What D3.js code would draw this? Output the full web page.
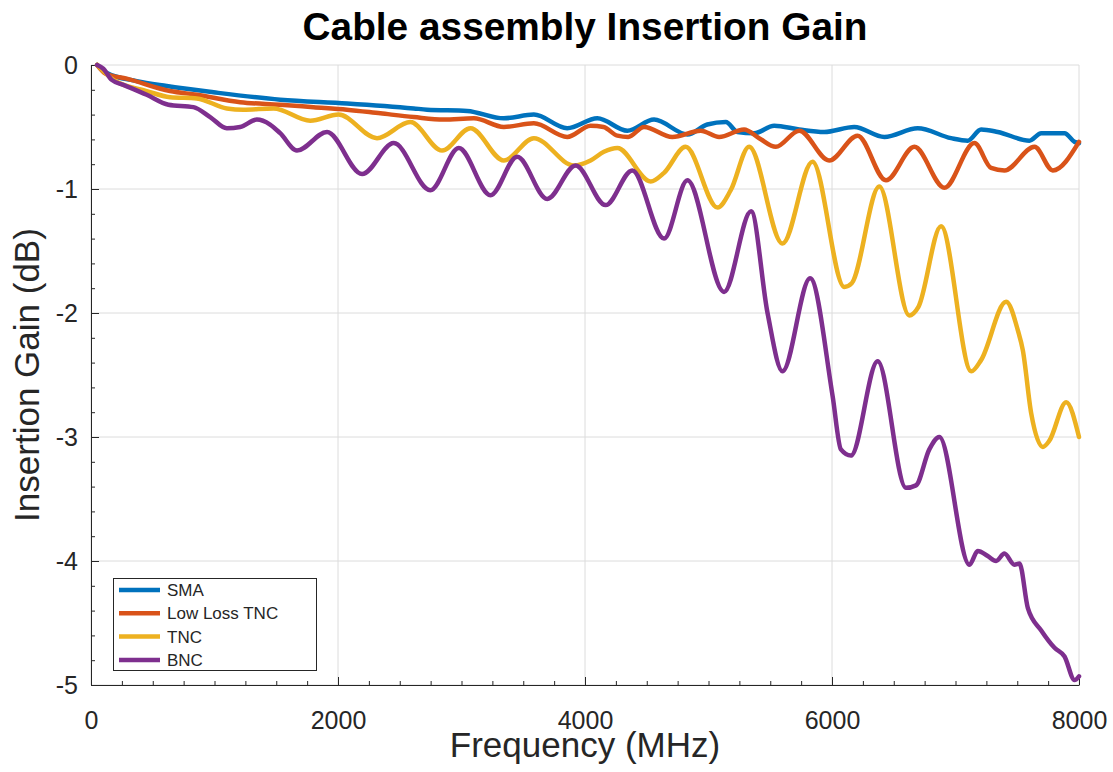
<!DOCTYPE html>
<html>
<head>
<meta charset="UTF-8">
<title>Cable assembly Insertion Gain</title>
<script src="https://d3js.org/d3.v7.min.js"></script>
<style>
    body { margin: 0; background: #fff; }
    svg { font-family: "Liberation Sans", Arial, Helvetica, sans-serif; }
</style>
</head>
<body>
<svg id="chart" width="1113" height="772"></svg>
<script>
    // values (frequency in MHz, gain in dB)
    const seriesNames = ["SMA", "Low Loss TNC", "TNC", "BNC"];
    const seriesColors = ["#0072BD", "#D95319", "#EDB120", "#7E2F8E"];

    const smaFreq = [50, 120, 370, 613, 992, 1532, 2073, 2613, 2721, 3046, 3343, 3586, 3856, 4100, 4343, 4559, 4829, 4990, 5140, 5234, 5370, 5532, 5734, 5937, 6180, 6424, 6694, 6964, 7099, 7207, 7342, 7599, 7694, 7883, 7964, 8000];
    const smaGain = [0, -0.06, -0.13, -0.17, -0.22, -0.28, -0.31, -0.35, -0.36, -0.37, -0.43, -0.40, -0.51, -0.43, -0.53, -0.44, -0.56, -0.48, -0.46, -0.54, -0.55, -0.49, -0.52, -0.54, -0.50, -0.58, -0.51, -0.59, -0.61, -0.52, -0.54, -0.61, -0.55, -0.55, -0.62, -0.63];

    const lltncFreq = [50, 120, 289, 640, 857, 1208, 1532, 1802, 2073, 2343, 2613, 2856, 3100, 3343, 3586, 3856, 4045, 4150, 4262, 4350, 4478, 4707, 4937, 5086, 5288, 5410, 5545, 5734, 5977, 6207, 6437, 6667, 6910, 7153, 7288, 7396, 7640, 7788, 8000];
    const lltncGain = [0, -0.07, -0.11, -0.21, -0.24, -0.30, -0.32, -0.34, -0.36, -0.39, -0.42, -0.44, -0.43, -0.50, -0.47, -0.58, -0.49, -0.50, -0.57, -0.58, -0.50, -0.58, -0.53, -0.58, -0.52, -0.59, -0.66, -0.53, -0.77, -0.57, -0.93, -0.66, -0.99, -0.63, -0.83, -0.85, -0.66, -0.85, -0.62];

    const tncFreq = [50, 181, 451, 640, 857, 1100, 1235, 1478, 1775, 2005, 2316, 2586, 2843, 3073, 3343, 3586, 3910, 4045, 4153, 4262, 4532, 4640, 4815, 5073, 5180, 5329, 5599, 5842, 6100, 6160, 6383, 6626, 6700, 6883, 7128, 7207, 7410, 7505, 7545, 7613, 7707, 7760, 7896, 8000];
    const tncGain = [0, -0.12, -0.21, -0.26, -0.27, -0.35, -0.36, -0.35, -0.45, -0.40, -0.59, -0.46, -0.69, -0.51, -0.77, -0.59, -0.81, -0.77, -0.70, -0.67, -0.94, -0.87, -0.66, -1.15, -1.01, -0.66, -1.44, -0.78, -1.79, -1.76, -0.98, -2.02, -1.95, -1.30, -2.47, -2.38, -1.91, -2.14, -2.30, -2.81, -3.08, -3.03, -2.72, -3.00];

    const bncFreq = [50, 100, 168, 262, 451, 627, 830, 965, 1100, 1208, 1343, 1450, 1532, 1668, 1911, 2195, 2451, 2748, 2978, 3235, 3451, 3694, 3924, 4167, 4383, 4640, 4829, 5126, 5345, 5478, 5599, 5823, 6005, 6072, 6153, 6370, 6599, 6680, 6788, 6869, 7113, 7180, 7261, 7329, 7396, 7477, 7518, 7586, 7694, 7802, 7883, 7964, 8000];
    const bncGain = [0, -0.03, -0.12, -0.16, -0.24, -0.32, -0.34, -0.42, -0.51, -0.50, -0.44, -0.48, -0.55, -0.69, -0.54, -0.88, -0.63, -1.01, -0.67, -1.05, -0.74, -1.08, -0.81, -1.13, -0.85, -1.40, -0.93, -1.83, -1.18, -2.00, -2.47, -1.72, -2.67, -3.10, -3.15, -2.39, -3.41, -3.39, -3.10, -3.00, -4.03, -3.92, -3.96, -4.00, -3.94, -4.03, -4.02, -4.38, -4.56, -4.70, -4.77, -4.96, -4.93];

    const xTicks = [0, 2000, 4000, 6000, 8000];
    const yTicks = [0, -1, -2, -3, -4, -5];

    const series = [
        {name: seriesNames[0], color: seriesColors[0], freq: smaFreq, gain: smaGain},
        {name: seriesNames[1], color: seriesColors[1], freq: lltncFreq, gain: lltncGain},
        {name: seriesNames[2], color: seriesColors[2], freq: tncFreq, gain: tncGain},
        {name: seriesNames[3], color: seriesColors[3], freq: bncFreq, gain: bncGain}
    ];

    const mLeft = 91, mRight = 1079, mTop = 65, mBottom = 685;
    const axisColor = '#262626';

    const svg = d3.select('#chart');

    const x = d3.scaleLinear().domain([0, 8000]).range([mLeft, mRight]);
    const y = d3.scaleLinear().domain([-5, 0]).range([mBottom, mTop]);

    // grid
    const grid = svg.append('g').attr('stroke', '#dcdcdc').attr('stroke-width', 1);
    grid.selectAll('.gx').data(xTicks).join('line')
        .attr('x1', d => x(d)).attr('x2', d => x(d))
        .attr('y1', mTop).attr('y2', mBottom);
    grid.selectAll('.gy').data(yTicks).join('line')
        .attr('x1', mLeft).attr('x2', mRight)
        .attr('y1', d => y(d)).attr('y2', d => y(d));

    // minor ticks (inward)
    const xMinor = d3.range(0, 8001, 250);
    const yMinor = d3.range(-5, 0.001, 0.2);
    svg.append('g')
        .attr('transform', `translate(0,${mBottom})`)
        .call(d3.axisBottom(x).tickValues(xMinor).tickSize(-4).tickSizeOuter(0).tickFormat(''))
        .call(g => g.select('.domain').remove())
        .selectAll('line').attr('stroke', axisColor);
    svg.append('g')
        .attr('transform', `translate(${mLeft},0)`)
        .call(d3.axisLeft(y).tickValues(yMinor).tickSize(-4).tickSizeOuter(0).tickFormat(''))
        .call(g => g.select('.domain').remove())
        .selectAll('line').attr('stroke', axisColor);

    // major axes
    const xAxis = svg.append('g')
        .attr('transform', `translate(0,${mBottom})`)
        .call(d3.axisBottom(x).tickValues(xTicks).tickSize(-8).tickSizeOuter(0).tickPadding(26).tickFormat(d => String(d)));
    const yAxis = svg.append('g')
        .attr('transform', `translate(${mLeft},0)`)
        .call(d3.axisLeft(y).tickValues(yTicks).tickSize(-8).tickSizeOuter(0).tickPadding(13).tickFormat(d => String(d)));
    [xAxis, yAxis].forEach(g => {
        g.attr('font-family', null).attr('font-size', null);
        g.select('.domain').attr('stroke', axisColor);
        g.selectAll('line').attr('stroke', axisColor);
        g.selectAll('text').attr('fill', axisColor).style('font-size', '25px');
    });

    // curves
    const line = d3.line()
        .x(d => x(d[0]))
        .y(d => y(d[1]))
        .curve(d3.curveMonotoneX);

    const plot = svg.append('g');
    series.forEach(s => {
        const pts = s.freq.map((f, i) => [f, s.gain[i]]);
        plot.append('path')
            .datum(pts)
            .attr('fill', 'none')
            .attr('stroke', s.color)
            .attr('stroke-width', 4.5)
            .attr('stroke-linejoin', 'round')
            .attr('stroke-linecap', 'round')
            .attr('d', line);
    });

    // title and labels
    svg.append('text')
        .attr('x', (mLeft + mRight) / 2).attr('y', 40)
        .attr('text-anchor', 'middle')
        .style('font-size', '38.8px').style('font-weight', 'bold')
        .attr('fill', '#000')
        .text('Cable assembly Insertion Gain');

    svg.append('text')
        .attr('x', (mLeft + mRight) / 2).attr('y', 757)
        .attr('text-anchor', 'middle')
        .style('font-size', '35px')
        .attr('fill', axisColor)
        .text('Frequency (MHz)');

    svg.append('text')
        .attr('transform', `translate(39,${(mTop + mBottom) / 2}) rotate(-90)`)
        .attr('text-anchor', 'middle')
        .style('font-size', '35px')
        .attr('fill', axisColor)
        .text('Insertion Gain (dB)');

    // legend
    const legend = svg.append('g');
    legend.append('rect')
        .attr('x', 113.5).attr('y', 578.5).attr('width', 203).attr('height', 92)
        .attr('fill', '#fff').attr('stroke', axisColor).attr('stroke-width', 1);
    const rows = legend.selectAll('.row').data(series).join('g')
        .attr('transform', (d, i) => `translate(0,${590 + i * 23.3})`);
    rows.append('line')
        .attr('x1', 119).attr('x2', 160)
        .attr('stroke', d => d.color).attr('stroke-width', 4.5);
    rows.append('text')
        .attr('x', 167).attr('dy', '0.35em')
        .style('font-size', '17px')
        .attr('fill', axisColor)
        .text(d => d.name);
</script>
</body>
</html>
